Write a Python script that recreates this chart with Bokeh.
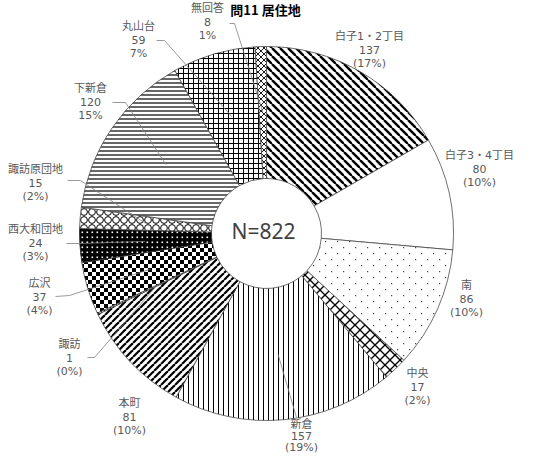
import math
from bokeh.plotting import figure
from bokeh.models import ColumnDataSource, CanvasTexture, Range1d
from bokeh.core.properties import value
from bokeh.embed import file_html
from bokeh.resources import INLINE

# ---------------- data ----------------
categories = ["白子1・2丁目", "白子3・4丁目", "南", "中央", "新倉", "本町", "諏訪",
              "広沢", "西大和団地", "諏訪原団地", "下新倉", "丸山台", "無回答"]
counts = [137, 80, 86, 17, 157, 81, 1, 37, 24, 15, 120, 59, 8]
pct_labels = ["(17%)", "(10%)", "(10%)", "(2%)", "(19%)", "(10%)", "(0%)",
              "(4%)", "(3%)", "(2%)", "15%", "7%", "1%"]
title_text = "問11 居住地"

# ---------------- layout (page pixel coordinates) ----------------
W, H = 518, 457
PAGE_H = 473
CX, CY = 274, 241          # pie centre
R_OUT, R_IN = 187, 55
LEADER_FRAC = 0.65

label_pos = [(377, 44), (487, 163), (474, 293), (425, 381), (309, 432), (137, 411),
             (77, 352), (47, 291), (43, 237), (43, 177), (98, 96), (146, 34), (215, 16)]
label_step = [13.5] * 4 + [11.5] + [13.5] * 8
leader_start = {
    "新倉": [(304, 425)],
    "諏訪": [(95, 365), (102, 365)],
    "広沢": [(63, 304), (77, 303)],
    "西大和団地": [(74, 251), (87, 251)],
    "諏訪原団地": [(75, 188), (88, 188)],
    "下新倉": [(120, 110), (133, 110)],
    "丸山台": [(164, 48), (172, 48)],
    "無回答": [(237, 31), (242, 31)],
}

# ---------------- textures (tile size set inside the code) ----------------
TEX_CODE = {
    "back": """
const s = {s}; ctx.canvas.width = s; ctx.canvas.height = s;
ctx.strokeStyle = '{c}'; ctx.lineWidth = {w};
for (let k = -1; k <= 1; k++) {{ ctx.beginPath(); ctx.moveTo(k*s, 0); ctx.lineTo(k*s + s, s); ctx.stroke(); }}
""",
    "fwd": """
const s = {s}; ctx.canvas.width = s; ctx.canvas.height = s;
ctx.strokeStyle = '{c}'; ctx.lineWidth = {w};
for (let k = -1; k <= 1; k++) {{ ctx.beginPath(); ctx.moveTo(k*s, s); ctx.lineTo(k*s + s, 0); ctx.stroke(); }}
""",
    "xcross": """
const s = {s}; ctx.canvas.width = s; ctx.canvas.height = s;
ctx.strokeStyle = '{c}'; ctx.lineWidth = {w};
for (let k = -1; k <= 1; k++) {{
  ctx.beginPath(); ctx.moveTo(k*s, 0); ctx.lineTo(k*s + s, s); ctx.stroke();
  ctx.beginPath(); ctx.moveTo(k*s, s); ctx.lineTo(k*s + s, 0); ctx.stroke();
}}
""",
    "sdots": """
const s = {s}; ctx.canvas.width = s; ctx.canvas.height = s;
const h = s / 2; ctx.fillStyle = '{c}';
ctx.fillRect(1, 1, {w}, {w}); ctx.fillRect(1 + h, 1 + h, {w}, {w});
""",
    "checker": """
const s = {s}; ctx.canvas.width = s; ctx.canvas.height = s;
const h = s / 2; ctx.fillStyle = '{c}';
ctx.fillRect(0, 0, h, h); ctx.fillRect(h, h, h, h);
""",
    "wdots": """
const s = {s}; ctx.canvas.width = s; ctx.canvas.height = s;
ctx.fillStyle = '#000000'; ctx.fillRect(0, 0, s, s);
ctx.fillStyle = '{c}'; ctx.fillRect(1.5, 1.5, {w}, {w});
""",
    "rings": """
const s = {s}; ctx.canvas.width = s; ctx.canvas.height = s;
const h = s / 2; ctx.strokeStyle = '{c}'; ctx.lineWidth = {w};
ctx.beginPath(); ctx.arc(h, h, h - 0.6, 0, 2*Math.PI); ctx.stroke();
""",
}

# per-slice style: (fill, hatch name, hatch colour, scale, weight)
styles = [
    ("white", "back", "#000000", 8, 2.4),
    ("white", None, "#000000", 8, 1),
    ("white", "sdots", "#444444", 12, 1.2),
    ("white", "xcross", "#000000", 10, 1.3),
    ("white", "|", "#000000", 5, 1.0),
    ("white", "fwd", "#000000", 7, 2.2),
    ("white", "|", "#000000", 3, 1.0),
    ("white", "checker", "#000000", 8, 1),
    ("#000000", "wdots", "#ffffff", 5, 1.6),
    ("white", "rings", "#000000", 8, 1.0),
    ("white", "-", "#000000", 4, 1.2),
    ("white", "+", "#000000", 5, 1.0),
    ("white", "xcross", "#000000", 6, 0.9),
]


def dy(y):
    return PAGE_H - y


p = figure(width=W, height=H, output_backend="svg", toolbar_location=None,
           x_range=Range1d(8, 8 + W), y_range=Range1d(PAGE_H - 8 - H, PAGE_H - 8),
           min_border=0, outline_line_color=None, background_fill_color="white")
p.axis.visible = False
p.grid.visible = False

total = sum(counts)
cum = 0
mids = []
for i, (cat, n) in enumerate(zip(categories, counts)):
    c0 = cum / total
    cum += n
    c1 = cum / total
    mids.append((c0 + c1) / 2)
    src = ColumnDataSource(dict(x=[CX], y=[dy(CY)],
                                start=[math.pi / 2 - 2 * math.pi * c0],
                                end=[math.pi / 2 - 2 * math.pi * c1]))
    fill, hp, hc, hs, hw = styles[i]
    kw = {}
    if hp is not None:
        kw = dict(hatch_color=hc, hatch_scale=hs, hatch_weight=hw)
        if hp in TEX_CODE:
            name = f"t{i}"
            kw["hatch_extra"] = {name: CanvasTexture(code=TEX_CODE[hp].format(s=hs, c=hc, w=hw))}
            kw["hatch_pattern"] = value(name)
        else:
            kw["hatch_pattern"] = value(hp)
    p.annular_wedge(x="x", y="y", inner_radius=R_IN, outer_radius=R_OUT,
                    inner_radius_units="screen", outer_radius_units="screen",
                    start_angle="start", end_angle="end", direction="clock",
                    fill_color=fill, line_color="#404040", line_width=0.75,
                    source=src, **kw)

# leader lines
lx, ly = [], []
for i, cat in enumerate(categories):
    if cat not in leader_start:
        continue
    th = 2 * math.pi * mids[i]
    ex = CX + LEADER_FRAC * R_OUT * math.sin(th)
    ey = CY - LEADER_FRAC * R_OUT * math.cos(th)
    pts = leader_start[cat] + [(ex, ey)]
    lx.append([q[0] for q in pts])
    ly.append([dy(q[1]) for q in pts])
p.multi_line(xs=lx, ys=ly, line_color="#808080", line_width=0.8)

# data labels
tx, ty, tt = [], [], []
for i, cat in enumerate(categories):
    x0, y0 = label_pos[i]
    for j, s in enumerate([cat, str(counts[i]), pct_labels[i]]):
        tx.append(x0)
        ty.append(dy(y0 + j * label_step[i]))
        tt.append(s)
p.text(x=tx, y=ty, text=tt, text_align="center", text_baseline="middle",
       text_font=value("'DejaVu Sans', 'Noto Sans CJK JP'"), text_font_size="11px",
       text_color="#595959")

# centre total and title
p.text(x=[CX - 3], y=[dy(CY - 3)], text=[f"N={total}"], text_align="center",
       text_baseline="middle", text_font=value("Noto Sans"), text_font_size="21px",
       text_color="#404040")
p.text(x=[273], y=[dy(17)], text=[title_text], text_align="center",
       text_baseline="middle", text_font=value("Noto Sans CJK JP"), text_font_size="13px",
       text_font_style="bold", text_color="black")

open("out.html", "w").write(file_html(p, INLINE))
